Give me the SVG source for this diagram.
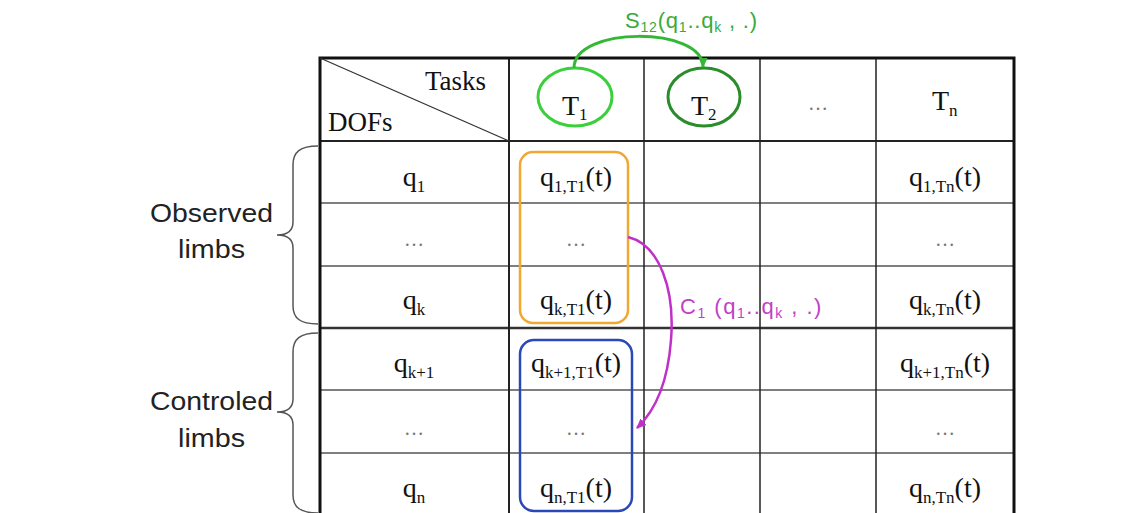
<svg xmlns="http://www.w3.org/2000/svg" width="1143" height="513" viewBox="0 0 1143 513">
<defs>
<style>
.tm{font-family:"Liberation Serif","Times New Roman",serif;fill:#111;}
.c{text-anchor:middle;}
.q{font-size:28px;}
.s{font-size:17px;}
.dots{font-family:"Liberation Serif",serif;font-size:20px;fill:#777;text-anchor:middle;}
.sans{font-family:"Liberation Sans",Arial,sans-serif;}
.grid{stroke:#222;stroke-width:1.5;fill:none;}
.hl{stroke:#555;stroke-width:1.5;}
.brace{fill:none;stroke:#555;stroke-width:1.5;}
</style>
<marker id="ag" markerUnits="userSpaceOnUse" markerWidth="10" markerHeight="9" refX="9" refY="4.5" orient="auto"><path d="M0,0 L10,4.5 L0,9 z" fill="#33b833"/></marker>
<marker id="am" markerUnits="userSpaceOnUse" markerWidth="10" markerHeight="9" refX="9" refY="4.5" orient="auto"><path d="M0,0 L10,4.5 L0,9 z" fill="#c030c8"/></marker>
</defs>
<rect width="1143" height="513" fill="#fff"/>

<g id="table">
<g class="hl">
<line x1="320" y1="203" x2="1014" y2="203"/>
<line x1="320" y1="266" x2="1014" y2="266"/>
<line x1="320" y1="390" x2="1014" y2="390"/>
<line x1="320" y1="453" x2="1014" y2="453"/>
</g>
<line x1="320" y1="328" x2="1014" y2="328" stroke="#333" stroke-width="2.5"/>
<line x1="320" y1="141" x2="1014" y2="141" stroke="#222" stroke-width="2"/>
<g class="grid">
<line x1="509" y1="58" x2="509" y2="515" stroke-width="2"/>
<line x1="644" y1="58" x2="644" y2="515"/>
<line x1="760" y1="58" x2="760" y2="515"/>
<line x1="876" y1="58" x2="876" y2="515"/>
</g>
<path d="M320,515 L320,58 L1014,58 L1014,515" fill="none" stroke="#111" stroke-width="3"/>
<line x1="320" y1="58" x2="509" y2="141" stroke="#333" stroke-width="1.3"/>
<text class="tm" x="425" y="90" font-size="27">Tasks</text>
<text class="tm" x="328" y="131" font-size="27">DOFs</text>
<text class="dots" x="818" y="110">…</text>
<text class="tm" x="932" y="110" font-size="28">T<tspan font-size="17" dy="6">n</tspan></text>
</g>

<g id="col-dofs" class="tm">
<text class="c q" x="414" y="186">q<tspan class="s" dy="6">1</tspan></text>
<text class="dots" x="414" y="246">…</text>
<text class="c q" x="414" y="309">q<tspan class="s" dy="6">k</tspan></text>
<text class="c q" x="414" y="372">q<tspan class="s" dy="6">k+1</tspan></text>
<text class="dots" x="414" y="435">…</text>
<text class="c q" x="414" y="497">q<tspan class="s" dy="6">n</tspan></text>
</g>

<g id="col-tn" class="tm">
<text class="c q" x="945" y="186">q<tspan class="s" dy="6">1,Tn</tspan><tspan dy="-6">(t)</tspan></text>
<text class="dots" x="945" y="246">…</text>
<text class="c q" x="945" y="309">q<tspan class="s" dy="6">k,Tn</tspan><tspan dy="-6">(t)</tspan></text>
<text class="c q" x="945" y="372">q<tspan class="s" dy="6">k+1,Tn</tspan><tspan dy="-6">(t)</tspan></text>
<text class="dots" x="945" y="435">…</text>
<text class="c q" x="945" y="497">q<tspan class="s" dy="6">n,Tn</tspan><tspan dy="-6">(t)</tspan></text>
</g>

<g id="observed-box">
<rect x="520" y="152" width="108" height="171" rx="13" fill="none" stroke="#f0a830" stroke-width="2.5"/>
<g class="tm">
<text class="c q" x="576" y="186">q<tspan class="s" dy="6">1,T1</tspan><tspan dy="-6">(t)</tspan></text>
<text class="dots" x="576" y="246">…</text>
<text class="c q" x="576" y="309">q<tspan class="s" dy="6">k,T1</tspan><tspan dy="-6">(t)</tspan></text>
</g>
</g>

<g id="controlled-box">
<rect x="520" y="340" width="112" height="171" rx="14" fill="none" stroke="#2a48b8" stroke-width="2.5"/>
<g class="tm">
<text class="c q" x="576" y="372">q<tspan class="s" dy="6">k+1,T1</tspan><tspan dy="-6">(t)</tspan></text>
<text class="dots" x="576" y="435">…</text>
<text class="c q" x="576" y="497">q<tspan class="s" dy="6">n,T1</tspan><tspan dy="-6">(t)</tspan></text>
</g>
</g>

<g id="T1">
<ellipse cx="575" cy="97" rx="37" ry="29" fill="none" stroke="#3ccf3c" stroke-width="3"/>
<text class="tm" x="562" y="115" font-size="28">T<tspan font-size="17" dy="5">1</tspan></text>
</g>
<g id="T2">
<ellipse cx="704" cy="97" rx="36" ry="29" fill="none" stroke="#2a8c2a" stroke-width="3"/>
<text class="tm" x="691" y="115" font-size="28">T<tspan font-size="17" dy="5">2</tspan></text>
</g>

<g id="brace-observed">
<path class="brace" d="M318,146 C300,146 293,152 293,165 L293,222 C293,230 288,235 277,235 C288,235 293,240 293,248 L293,306 C293,318 300,324 318,324"/>
<text class="sans" x="150" y="222" font-size="25" fill="#222" textLength="123" lengthAdjust="spacingAndGlyphs">Observed</text>
<text class="sans" x="178" y="258" font-size="25" fill="#222" textLength="67" lengthAdjust="spacingAndGlyphs">limbs</text>
</g>
<g id="brace-controlled">
<path class="brace" d="M318,333 C300,333 293,339 293,352 L293,399 C293,407 288,412 277,412 C288,412 293,417 293,425 L293,495 C293,507 300,513 318,513"/>
<text class="sans" x="150" y="410" font-size="25" fill="#222" textLength="123" lengthAdjust="spacingAndGlyphs">Controled</text>
<text class="sans" x="178" y="447" font-size="25" fill="#222" textLength="67" lengthAdjust="spacingAndGlyphs">limbs</text>
</g>

<g id="connectors">
<path d="M574,68 C574,26 703,26 703,67" fill="none" stroke="#33b833" stroke-width="3" marker-end="url(#ag)"/>
<path d="M628,237 C660,245 675,290 671,340 C668,380 656,410 637,428" fill="none" stroke="#c030c8" stroke-width="2.5" marker-end="url(#am)"/>
</g>
<g id="labels" class="sans">
<text x="625" y="28" font-size="22" letter-spacing="0.8" fill="#3aaa3a">S<tspan font-size="14" dy="4">12</tspan><tspan dy="-4">(q</tspan><tspan font-size="14" dy="4">1</tspan><tspan dy="-4">..q</tspan><tspan font-size="14" dy="4">k</tspan><tspan dy="-4"> , .)</tspan></text>
<text x="680" y="314" font-size="22" letter-spacing="1.5" fill="#c040c8">C<tspan font-size="14" dy="4">1</tspan><tspan dy="-4"> (q</tspan><tspan font-size="14" dy="4">1</tspan><tspan dy="-4">..q</tspan><tspan font-size="14" dy="4">k</tspan><tspan dy="-4"> , .)</tspan></text>
</g>
</svg>
